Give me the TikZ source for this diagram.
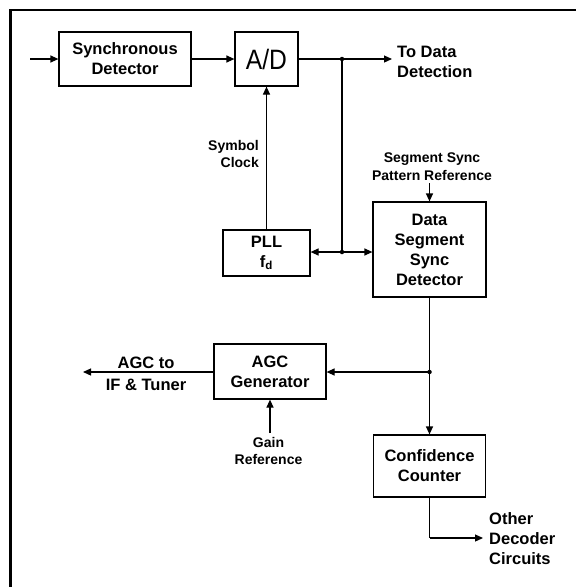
\documentclass[tikz,border=0pt]{standalone}
\usepackage{fontspec}
\setmainfont{Liberation Sans}
\newfontfamily\narrowfont[FakeStretch=0.88]{Liberation Sans}
\usetikzlibrary{arrows.meta}
\begin{document}
\begin{tikzpicture}[x=1pt,y=-1pt,
  blk/.style={draw, line width=1.2pt, inner sep=0pt, align=center,
    font=\bfseries\fontsize{16.5}{20}\selectfont},
  lbl/.style={inner sep=0pt, font=\bfseries\fontsize{16.5}{20}\selectfont},
  sml/.style={inner sep=0pt, font=\bfseries\fontsize{14}{17.5}\selectfont},
  wire/.style={line width=1.2pt},
  conn/.style={line width=1.2pt, -{Triangle[length=8pt,width=7pt]}},
  jdot/.style={circle, fill, inner sep=0pt, minimum size=4.5pt}]
\useasboundingbox (0,0) rectangle (576,587);
% frame (top and left edges only)
\draw[line width=2.6pt] (10.3,587) -- (10.3,10) -- (576,10);

% blocks
\node[blk, minimum width=132pt, minimum height=54pt] (sync) at (125,59) {Synchronous\\Detector};
\node[blk, minimum width=63pt, minimum height=54pt, font=\narrowfont\fontsize{28}{30}\selectfont] (ad) at (266.5,59) {A/D};
\node[blk, minimum width=87pt, minimum height=46pt] (pll) at (266.5,253) {PLL\\f\textsubscript{d}};
\node[blk, minimum width=113pt, minimum height=95pt] (dssd) at (429.5,249.5) {Data\\Segment\\Sync\\Detector};
\node[blk, minimum width=112pt, minimum height=55pt] (agc) at (270,371.5) {AGC\\Generator};
\node[blk, minimum width=112pt, minimum height=62pt] (cc) at (429.5,466) {Confidence\\Counter};

% labels
\node[lbl, anchor=west, align=left] (tdd) at (397,62) {To Data\\Detection};
\node[sml, anchor=east, align=right] (symclk) at (259,154) {Symbol\\Clock};
\node[sml, align=center] (segref) at (432,166.5) {Segment Sync\\Pattern Reference};
\node[lbl, align=center, font=\bfseries\fontsize{16.5}{22}\selectfont] (agcout) at (146,374) {AGC to\\IF \& Tuner};
\node[sml, align=center] (gainref) at (268.5,451) {Gain\\Reference};
\node[lbl, anchor=west, align=left] (other) at (489,539) {Other\\Decoder\\Circuits};

% junctions and free ends
\node[jdot] (j1) at (342,59) {};
\node[jdot] (j2) at (342,252) {};
\node[jdot] (j3) at (429.5,372) {};
\coordinate (in) at (30,59);
\coordinate (tddtip) at (392,59);
\coordinate (segtail) at (429.5,183);
\coordinate (agctip) at (83,372);
\coordinate (gaintail) at (270,433);
\coordinate (ccbend) at (429.5,538);
\coordinate (othertip) at (483,538);

% connectors
\draw[conn] (in) -- (sync.west);
\draw[conn] (sync.east) -- (ad.west);
\draw[conn] (ad.east) -- (tddtip);
\draw[wire] (j1.center) -- (j2.center);
\draw[conn] (j2.center) -- (j2 -| pll.east);
\draw[conn] (j2.center) -- (j2 -| dssd.west);
\draw[conn] (pll.north) -- (ad.south);
\draw[conn] (segtail) -- (dssd.north);
\draw[wire] (dssd.south) -- (j3.center);
\draw[conn] (j3.center) -- (cc.north);
\draw[conn] (j3.center) -- (j3 -| agc.east);
\draw[conn] (agc.west |- j3) -- (agctip);
\draw[conn] (gaintail) -- (agc.south);
\draw[wire] (cc.south) -- (ccbend);
\draw[conn] (ccbend) -- (othertip);
\end{tikzpicture}
\end{document}
